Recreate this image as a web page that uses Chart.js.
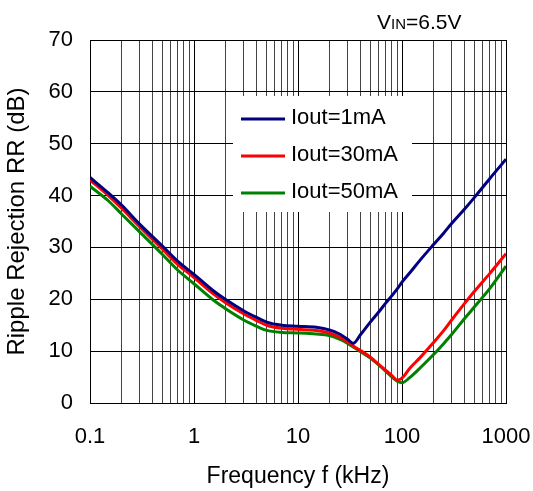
<!DOCTYPE html>
<html>
<head>
<meta charset="utf-8">
<script src="https://cdn.jsdelivr.net/npm/chart.js@4"></script>
<style>
  body { margin: 0; background: #fff; }
  canvas { display: block; }
</style>
</head>
<body>
<canvas id="chart" width="533" height="491"></canvas>
<script>
// Частоты (кГц) и значения RR (дБ)
const freq = [0.1, 0.15, 0.2, 0.3, 0.5, 0.7, 1, 1.5, 2, 3, 4, 5, 7, 10, 15, 20, 25, 30, 34, 40,
  50, 60, 70, 80, 90, 100, 120, 150, 200, 250, 300, 400, 500, 700, 1000];
const rr1mA = [43.5, 40.5, 38.2, 34.5, 30.2, 27.3, 24.8, 21.8, 20.0, 17.8, 16.5, 15.6, 15.0, 14.8, 14.6, 14.1, 13.3, 12.3, 11.5, 13.2,
  15.7, 17.6, 19.3, 20.7, 22.0, 23.3, 25.2, 27.6, 30.5, 32.7, 34.6, 37.4, 39.7, 43.3, 47.0];
const rr30mA = [43.0, 40.0, 37.6, 34.0, 29.6, 26.7, 24.2, 21.2, 19.4, 17.2, 15.9, 15.0, 14.4, 14.2, 14.0, 13.5, 12.7, 11.8, 11.0, 10.1,
  8.8, 7.4, 6.3, 5.3, 4.4, 4.8, 6.8, 8.8, 11.6, 13.9, 16.0, 19.2, 21.6, 25.0, 28.8];
const rr50mA = [41.8, 39.0, 36.5, 33.0, 28.6, 25.6, 23.0, 20.0, 18.2, 16.0, 14.8, 14.0, 13.6, 13.5, 13.3, 13.0, 12.3, 11.5, 10.8, 9.9,
  8.6, 7.3, 6.1, 5.0, 4.2, 3.9, 5.0, 6.8, 9.3, 11.4, 13.2, 16.3, 18.6, 22.1, 26.4];

const seriesLabels = ['Iout=1mA', 'Iout=30mA', 'Iout=50mA'];
const seriesColors = ['#000080', '#ff0000', '#008000'];

// Подписи осей
const xDecades = [0.1, 1, 10, 100, 1000];
const xMinorSteps = [1, 2, 3, 4, 5, 6, 7, 8, 9];
const yTicks = [0, 10, 20, 30, 40, 50, 60, 70];

const FONT = 'Liberation Sans, Arial, sans-serif';

const xTicks = [];
xDecades.slice(0, -1).forEach(d => xMinorSteps.forEach(m => xTicks.push(+(d * m).toPrecision(3))));
xTicks.push(1000);

const toPoints = arr => freq.map((f, i) => ({ x: f, y: arr[i] }));

// Легенда внутри графика
const legendBox = {
  id: 'legendBox',
  beforeDatasetsDraw(chart) {
    const ctx = chart.ctx;
    ctx.save();
    ctx.fillStyle = '#fff';
    ctx.fillRect(233, 96, 179, 116);
    const rows = [119, 156, 193];
    chart.data.datasets.forEach((ds, i) => {
      ctx.strokeStyle = ds.borderColor;
      ctx.lineWidth = 3;
      ctx.beginPath();
      ctx.moveTo(241, rows[i]);
      ctx.lineTo(285, rows[i]);
      ctx.stroke();
      ctx.fillStyle = '#000';
      ctx.font = '22px ' + FONT;
      ctx.textBaseline = 'middle';
      ctx.textAlign = 'left';
      ctx.fillText(ds.label, 291, rows[i] - 1);
    });
    ctx.restore();
  }
};

// Надпись VIN=6.5V
const vinLabel = {
  id: 'vinLabel',
  afterDraw(chart) {
    const ctx = chart.ctx;
    ctx.save();
    ctx.fillStyle = '#000';
    ctx.textBaseline = 'alphabetic';
    ctx.textAlign = 'left';
    let x = 377;
    const y = 28.5;
    ctx.font = '21px ' + FONT;
    ctx.fillText('V', x, y);
    x += ctx.measureText('V').width;
    ctx.font = '15px ' + FONT;
    ctx.fillText('IN', x, y);
    x += ctx.measureText('IN').width;
    ctx.font = '21px ' + FONT;
    ctx.fillText('=6.5V', x, y);
    ctx.restore();
  }
};

new Chart(document.getElementById('chart'), {
  type: 'line',
  data: {
    datasets: [rr1mA, rr30mA, rr50mA].map((arr, i) => ({
      label: seriesLabels[i],
      data: toPoints(arr),
      borderColor: seriesColors[i],
      backgroundColor: seriesColors[i],
      borderWidth: 3,
      pointRadius: 0,
      cubicInterpolationMode: 'monotone',
      fill: false
    }))
  },
  options: {
    responsive: false,
    animation: false,
    layout: { padding: { top: 40, right: 27, left: 0, bottom: 0 } },
    plugins: {
      legend: { display: false },
      tooltip: { enabled: false }
    },
    scales: {
      x: {
        type: 'logarithmic',
        min: 0.1,
        max: 1000,
        afterBuildTicks: scale => { scale.ticks = xTicks.map(v => ({ value: v })); },
        afterFit: scale => {
          scale.height = 88;
          scale.paddingLeft = 0;
          scale.paddingRight = 0;
        },
        ticks: {
          autoSkip: false,
          maxRotation: 0,
          padding: 21,
          color: '#000',
          font: { family: FONT, size: 22 },
          callback: v => xDecades.includes(v) ? String(v) : ''
        },
        grid: {
          drawTicks: false,
          color: ctx => (ctx.tick && xDecades.includes(ctx.tick.value)) ? '#000' : '#444',
          lineWidth: 1
        },
        border: { color: '#000', width: 1 },
        title: {
          display: true,
          text: 'Frequency f (kHz)',
          color: '#000',
          font: { family: FONT, size: 23 },
          padding: { top: 0, bottom: 1 }
        }
      },
      y: {
        min: 0,
        max: 70,
        afterBuildTicks: scale => { scale.ticks = yTicks.map(v => ({ value: v })); },
        afterFit: scale => {
          scale.width = 90;
          scale.paddingTop = 0;
          scale.paddingBottom = 0;
        },
        ticks: {
          padding: 17,
          color: '#000',
          font: { family: FONT, size: 22 }
        },
        grid: { drawTicks: false, color: '#000', lineWidth: 1 },
        border: { color: '#000', width: 1 },
        title: {
          display: true,
          text: 'Ripple Rejection RR (dB)',
          color: '#000',
          font: { family: FONT, size: 24 },
          padding: { top: 3, bottom: 0 }
        }
      }
    }
  },
  plugins: [legendBox, vinLabel]
});
</script>
</body>
</html>
